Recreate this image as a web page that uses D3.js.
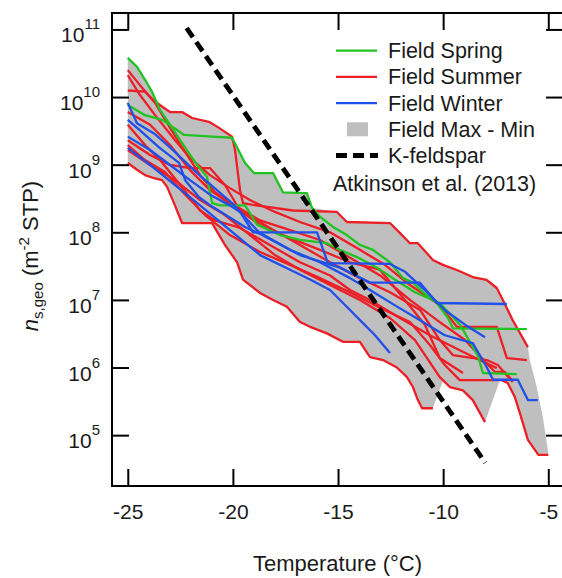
<!DOCTYPE html>
<html>
<head>
<meta charset="utf-8">
<script src="https://cdn.jsdelivr.net/npm/d3@7"></script>
<style>
  body { margin: 0; background: #fff; }
  svg { display: block; font-family: "Liberation Sans", Arial, sans-serif; }
</style>
</head>
<body>
<svg id="chart" width="562" height="578"></svg>
<script>
// temperature (°C), n_s,geo (m-2 STP)
var xTicks = [-25, -20, -15, -10, -5];
var yTicks = [1e5, 1e6, 1e7, 1e8, 1e9, 1e10, 1e11];
var xDomain = [-25.75, -4.3];
var yDomain = [1.77e4, 1.75e11];

var spring1 = [[-25,3.8e10],[-24.56,2.8e10],[-24.18,1.8e10],[-23.85,1.2e10],[-23.46,6.4e9],[-22.99,3.9e9],[-22.51,2.3e9],[-22.04,1.4e9],[-21.7,9.9e8],[-21.23,6.6e8],[-20.99,2.7e8],[-20.6,2.5e8],[-19.42,2.5e8],[-18.85,1.3e8],[-17.76,9.1e7],[-16.81,7.7e7],[-15.53,6.9e7],[-14.91,5.5e7],[-14.1,4.3e7],[-13.15,3.0e7],[-12.3,2.0e7],[-11.34,1.3e7],[-10.16,9.0e6],[-9.2,4.3e6],[-8.35,1.5e6],[-8.11,8.3e5],[-6.5,8.0e5]];
var spring2 = [[-25,7.6e9],[-24.18,5.4e9],[-23.37,4.6e9],[-22.8,3.5e9],[-22.32,2.75e9],[-20.99,2.6e9],[-20.04,2.5e9],[-19.8,1.8e9],[-19.42,1.06e9],[-19.0,7.5e8],[-18.09,7.5e8],[-17.62,3.9e8],[-16.48,3.8e8],[-16.24,2.3e8],[-15.86,1.7e8],[-15.24,1.2e8],[-14.58,9.1e7],[-13.96,6.5e7],[-13.34,5.5e7],[-12.53,3.6e7],[-11.91,2.1e7],[-11.44,1.8e7],[-10.96,1.3e7],[-10.3,9.0e6],[-9.77,5.4e6],[-9.53,3.8e6],[-6.02,3.7e6]];

var summer1 = [[-25,1.25e10],[-24.18,1.2e10],[-23.7,8.5e9],[-22.99,6.0e9],[-22.42,6.0e9],[-21.94,4.9e9],[-21.14,4.3e9],[-20.66,3.5e9],[-20.04,2.6e9],[-19.9,1.65e9],[-19.66,4.2e8],[-19.52,2.7e8],[-18.71,2.45e8],[-17.14,2.1e8],[-15.05,2.0e8],[-14.58,1.42e8],[-12.53,1.37e8],[-12.06,9.8e7],[-11.58,6.9e7],[-11.2,6.9e7],[-10.49,3.9e7],[-10.01,3.3e7],[-9.35,2.77e7],[-8.59,2.18e7],[-7.93,1.97e7],[-7.45,1.5e7],[-7.16,1.0e7],[-6.69,5.0e6],[-5.97,2.0e6]];
var summer2 = [[-25,2.5e10],[-24.42,1.5e10],[-23.7,8.2e9],[-22.99,3.5e9],[-22.27,1.54e9],[-21.56,7.0e8],[-20.85,3.9e8],[-19.9,2.5e8],[-18.71,1.5e8],[-17.28,1.08e8],[-15.86,7.7e7],[-14.43,4.2e7],[-13.0,2.3e7],[-11.58,1.0e7],[-10.16,4.7e6],[-8.96,2.55e6],[-8.26,1.48e6],[-7.54,8.6e5],[-7.06,8.6e5],[-6.73,6.5e5]];
var summer3 = [[-25,2.1e10],[-24.42,1.07e10],[-23.7,5.4e9],[-22.75,2.3e9],[-22.04,1.26e9],[-21.09,7.0e8],[-20.14,4.5e8],[-19.19,3.0e8],[-18.0,2.0e8],[-16.81,1.42e8],[-15.38,1.0e8],[-13.96,5.5e7],[-12.77,3.3e7],[-11.58,1.66e7],[-10.16,8.4e6],[-9.35,4.0e6],[-7.45,4.0e6],[-6.97,1.38e6],[-6.02,1.29e6]];
var summer4 = [[-25,6.0e9],[-23.94,3.9e9],[-22.99,1.95e9],[-22.04,8.3e8],[-21.09,4.2e8],[-19.66,2.1e8],[-18.24,1.16e8],[-16.81,6.5e7],[-15.38,3.6e7],[-13.96,2.1e7],[-12.53,1.3e7],[-11.1,7.1e6],[-10.16,2.55e6],[-9.54,1.53e6],[-7.93,1.29e6],[-7.4,1.09e6],[-6.69,6.1e5]];
var summer5 = [[-25,2.3e9],[-23.94,1.39e9],[-22.99,9.9e8],[-22.04,8.9e8],[-21.09,8.9e8],[-20.38,5.0e8],[-19.66,2.1e8],[-18.71,1.28e8],[-17.28,8.2e7],[-15.86,5.5e7],[-14.43,3.6e7],[-13.01,2.8e7],[-11.82,1.0e7],[-10.87,4.3e6],[-10.16,1.38e6],[-9.06,8.3e5]];
var summer6 = [[-25,3.9e9],[-24.18,1.95e9],[-23.46,1.17e9],[-22.51,5.0e8],[-21.56,2.1e8],[-20.85,1.5e8],[-19.66,1.16e8],[-18.24,6.5e7],[-16.81,3.6e7],[-15.38,2.3e7],[-14.43,1.4e7],[-13.48,1.0e7],[-12.06,5.4e6],[-10.63,3.0e6],[-9.21,1.8e6],[-8.26,1.29e6],[-7.45,9.8e5]];
var summer7 = [[-25,1.06e9],[-24.56,8.4e8],[-24.18,7.0e8],[-23.75,6.3e8],[-23.37,5.9e8],[-23.13,4.7e8],[-22.8,2.7e8],[-22.42,1.37e8],[-20.99,1.37e8],[-20.38,6.5e7],[-19.8,3.6e7],[-19.52,2.0e7],[-18.71,1.27e7],[-18.09,1.0e7],[-17.43,7.9e6],[-16.81,4.7e6],[-16.33,4.0e6],[-15.53,3.2e6],[-14.77,2.4e6],[-13.96,2.4e6],[-13.48,1.43e6],[-12.86,1.29e6],[-12.2,1.0e6],[-11.72,7.2e5],[-11.44,5.15e5],[-11.2,3.3e5],[-11.0,2.5e5],[-10.49,2.5e5]];
var summer8 = [[-25,1.65e9],[-23.94,9.9e8],[-22.75,5.9e8],[-21.56,3.0e8],[-20.38,1.8e8],[-19.19,9.1e7],[-18.0,4.6e7],[-16.81,2.8e7],[-15.38,1.66e7],[-13.96,1.0e7],[-12.53,5.4e6],[-11.34,2.55e6],[-10.16,7.2e5],[-9.68,5.15e5],[-9.06,4.6e5],[-8.59,3.3e5],[-8.01,1.56e5]];
var summer9 = [[-25,1.95e9],[-24.18,1.17e9],[-23.23,7.8e8],[-22.27,3.6e8],[-21.32,1.8e8],[-20.14,9.1e7],[-18.71,5.1e7],[-17.28,3.3e7],[-15.86,2.1e7],[-14.43,1.3e7],[-13.0,7.6e6],[-11.58,4.7e6],[-10.63,2.15e6],[-9.92,1.09e6],[-9.21,6.5e5],[-7.22,6.5e5],[-6.93,5.9e5],[-6.59,3.66e5],[-6.35,2.12e5],[-5.97,8.5e4],[-5.47,5.1e4],[-5.0,5.1e4]];

var winter1 = [[-25,8.2e9],[-24.56,4.1e9],[-23.75,2.9e9],[-22.99,1.8e9],[-21.7,7.5e8],[-20.04,2.7e8],[-18.76,1.0e8],[-17.28,5.5e7],[-15.86,3.6e7],[-14.43,2.1e7],[-13.48,1.4e7],[-12.29,8.3e6],[-11.1,5.0e6],[-9.92,3.0e6],[-8.59,2.3e6],[-7.92,1.0e6],[-7.63,6.6e5],[-6.45,6.6e5],[-5.97,3.3e5],[-5.5,3.3e5]];
var winter2 = [[-25,4.6e9],[-24.46,3.3e9],[-23.51,1.8e9],[-22.56,1.06e9],[-22.27,5.9e8],[-21.61,3.3e8],[-20.99,2.4e8],[-19.42,1.2e8],[-18.61,9.1e7],[-16.81,4.6e7],[-14.91,3.0e7],[-13.48,1.8e7],[-11.1,1.8e7],[-10.3,9.0e6],[-6.97,8.7e6]];
var winter3 = [[-25,2.6e9],[-23.94,1.65e9],[-22.99,9.9e8],[-22.04,5.9e8],[-21.09,3.6e8],[-20.14,2.5e8],[-19.66,2.0e8],[-19.04,1.0e8],[-16.0,1.0e8],[-15.48,3.5e7],[-12.53,3.4e7],[-11.81,2.6e7],[-10.87,1.4e7],[-9.92,7.1e6],[-8.96,4.3e6],[-8.01,2.8e6]];
var winter4 = [[-25,1.77e9],[-23.94,9.9e8],[-22.75,5.0e8],[-21.56,2.5e8],[-20.14,1.08e8],[-18.71,4.6e7],[-17.28,2.8e7],[-16.33,2.0e7],[-15.38,1.4e7],[-14.43,7.1e6],[-13.86,4.7e6],[-13.24,3.0e6],[-12.53,1.64e6]];

// field max - min envelope
var envMax = [[-25,3.8e10],[-24.56,2.8e10],[-24.18,1.8e10],[-23.85,1.2e10],[-23.7,9.4e9],[-22.99,6.0e9],[-22.42,6.0e9],[-21.94,4.9e9],[-21.14,4.3e9],[-20.66,3.5e9],[-20.04,2.6e9],[-19.8,1.8e9],[-19.42,1.06e9],[-19.0,7.5e8],[-18.09,7.5e8],[-17.62,3.9e8],[-16.48,3.8e8],[-16.24,2.3e8],[-15.05,2.0e8],[-14.58,1.42e8],[-12.53,1.37e8],[-12.06,9.8e7],[-11.58,6.9e7],[-11.2,6.9e7],[-10.49,3.9e7],[-10.01,3.3e7],[-9.35,2.77e7],[-8.59,2.18e7],[-7.93,1.97e7],[-7.45,1.5e7],[-7.16,1.0e7],[-6.69,5.0e6],[-5.97,2.0e6],[-5.88,1.29e6],[-5.55,5.15e5],[-5.26,1.85e5],[-5.0,5.4e4]];
var envMin = [[-25,1.06e9],[-24.56,8.4e8],[-24.18,7.0e8],[-23.75,6.3e8],[-23.37,5.9e8],[-23.13,4.7e8],[-22.8,2.7e8],[-22.42,1.37e8],[-20.99,1.37e8],[-20.38,6.5e7],[-19.8,3.6e7],[-19.52,2.0e7],[-18.71,1.27e7],[-18.09,1.0e7],[-17.43,7.9e6],[-16.81,4.7e6],[-16.33,4.0e6],[-15.53,3.2e6],[-14.77,2.4e6],[-13.96,2.4e6],[-13.48,1.43e6],[-12.86,1.29e6],[-12.2,1.0e6],[-11.72,7.2e5],[-11.44,5.15e5],[-11.2,3.3e5],[-11.0,2.5e5],[-10.49,2.5e5],[-10.0,6.5e5],[-9.68,5.15e5],[-9.06,4.6e5],[-8.59,3.3e5],[-8.01,1.56e5],[-7.3,6.5e5],[-6.93,5.9e5],[-6.59,3.66e5],[-6.35,2.12e5],[-5.97,8.5e4],[-5.47,5.1e4],[-5.0,5.1e4]];

// Atkinson et al. (2013) K-feldspar
var kFeldspar = [[-22.2,1.05e11],[-8.0,3.9e4]];

var springLines = [spring1, spring2];
var summerLines = [summer1, summer2, summer3, summer4, summer5, summer6, summer7, summer8, summer9];
var winterLines = [winter1, winter2, winter3, winter4];

var legendLabels = ["Field Spring", "Field Summer", "Field Winter", "Field Max - Min", "K-feldspar"];

var colors = {spring: "#22c222", summer: "#ec1e26", winter: "#2050e8", env: "#bfbfbf"};

var margin = {top: 13, right: -1, bottom: 92, left: 112},
    svg = d3.select("#chart"),
    width = +svg.attr("width") - margin.left - margin.right,
    height = +svg.attr("height") - margin.top - margin.bottom;

var x = d3.scaleLinear().domain(xDomain).range([0, width]),
    y = d3.scaleLog().domain(yDomain).range([height, 0]);

var g = svg.append("g")
    .attr("transform", "translate(" + margin.left + "," + margin.top + ")");

var line = d3.line()
    .x(function(d) { return x(d[0]); })
    .y(function(d) { return y(d[1]); });

// envelope polygon
g.append("path")
    .attr("d", line(envMax.concat(envMin.slice().reverse())) + "Z")
    .attr("fill", colors.env)
    .attr("stroke", "none");

function drawLines(set, color) {
    g.append("g").selectAll("path")
        .data(set)
        .enter().append("path")
        .attr("d", line)
        .attr("fill", "none")
        .attr("stroke", color)
        .attr("stroke-width", 2.3)
        .attr("stroke-linejoin", "round");
}
drawLines(summerLines, colors.summer);
drawLines(springLines, colors.spring);
drawLines(winterLines, colors.winter);

g.append("path")
    .attr("d", line(kFeldspar))
    .attr("fill", "none")
    .attr("stroke", "#000")
    .attr("stroke-width", 4.8)
    .attr("stroke-dasharray", "11,6");

// axes with inward ticks on all four sides
var tick = 17;
g.append("g")
    .attr("class", "axis axis--x")
    .attr("transform", "translate(0," + height + ")")
    .call(d3.axisBottom(x).tickValues(xTicks).tickSizeInner(-tick).tickSizeOuter(0).tickPadding(18)
        .tickFormat(function(d) { return String(d); }));
g.append("g")
    .attr("class", "axis")
    .call(d3.axisTop(x).tickValues(xTicks).tickSizeInner(-tick).tickSizeOuter(0).tickFormat(""));
g.append("g")
    .attr("class", "axis")
    .call(d3.axisLeft(y).tickValues(yTicks).tickSizeInner(-tick).tickSizeOuter(0).tickFormat(""));
g.append("g")
    .attr("class", "axis")
    .attr("transform", "translate(" + width + ",0)")
    .call(d3.axisRight(y).tickValues(yTicks).tickSizeInner(-tick).tickSizeOuter(0).tickFormat(""));

g.selectAll(".axis .domain").remove();
g.selectAll(".axis line").attr("stroke", "#000").attr("stroke-width", 2);
g.selectAll(".axis--x text")
    .attr("font-size", 21)
    .attr("font-family", "Liberation Sans, Arial, sans-serif")
    .attr("fill", "#1a1a1a");

g.append("rect")
    .attr("width", width)
    .attr("height", height)
    .attr("fill", "none")
    .attr("stroke", "#000")
    .attr("stroke-width", 2);

// y tick labels as 10^n
var yLab = g.append("g").selectAll("text")
    .data(yTicks)
    .enter().append("text")
    .attr("x", -12)
    .attr("y", function(d) { return y(d) + 13; })
    .attr("text-anchor", "end")
    .attr("fill", "#1a1a1a");
yLab.append("tspan").attr("font-size", 21).text("10");
yLab.append("tspan").attr("font-size", 15).attr("dy", -13)
    .text(function(d) { return Math.round(Math.log10(d)); });

// axis titles
svg.append("text")
    .attr("x", margin.left + width / 2)
    .attr("y", 571)
    .attr("text-anchor", "middle")
    .attr("font-size", 22)
    .attr("fill", "#1a1a1a")
    .text("Temperature (°C)");

var yt = svg.append("text")
    .attr("transform", "translate(38,256) rotate(-90)")
    .attr("text-anchor", "middle")
    .attr("font-size", 22)
    .attr("fill", "#1a1a1a");
yt.append("tspan").attr("font-style", "italic").text("n");
yt.append("tspan").attr("font-size", 15).attr("dy", 5).text("s,geo");
yt.append("tspan").attr("dy", -5).text(" (m");
yt.append("tspan").attr("font-size", 15).attr("dy", -9).text("-2");
yt.append("tspan").attr("dy", 9).text(" STP)");

// legend
var leg = svg.append("g").attr("transform", "translate(336,50.7)");
var rowH = 26.2;
var legItems = leg.selectAll("g")
    .data(legendLabels)
    .enter().append("g")
    .attr("transform", function(d, i) { return "translate(0," + (i * rowH) + ")"; });

var legColors = [colors.spring, colors.summer, colors.winter];
legItems.filter(function(d, i) { return i < 3; })
    .append("line")
    .attr("x1", 0).attr("x2", 41)
    .attr("stroke", function(d, i) { return legColors[i]; })
    .attr("stroke-width", 2.3);
legItems.filter(function(d, i) { return i === 3; })
    .append("rect")
    .attr("x", 11).attr("y", -7)
    .attr("width", 21).attr("height", 14)
    .attr("fill", colors.env);
legItems.filter(function(d, i) { return i === 4; })
    .append("line")
    .attr("x1", 0).attr("x2", 42)
    .attr("stroke", "#000")
    .attr("stroke-width", 4.8)
    .attr("stroke-dasharray", "11,6");
legItems.append("text")
    .attr("x", 52)
    .attr("dy", "0.35em")
    .attr("font-size", 21.5)
    .attr("fill", "#1a1a1a")
    .text(function(d) { return d; });

svg.append("text")
    .attr("x", 333)
    .attr("y", 183)
    .attr("dy", "0.35em")
    .attr("font-size", 21.5)
    .attr("fill", "#1a1a1a")
    .text("Atkinson et al. (2013)");
</script>
</body>
</html>
